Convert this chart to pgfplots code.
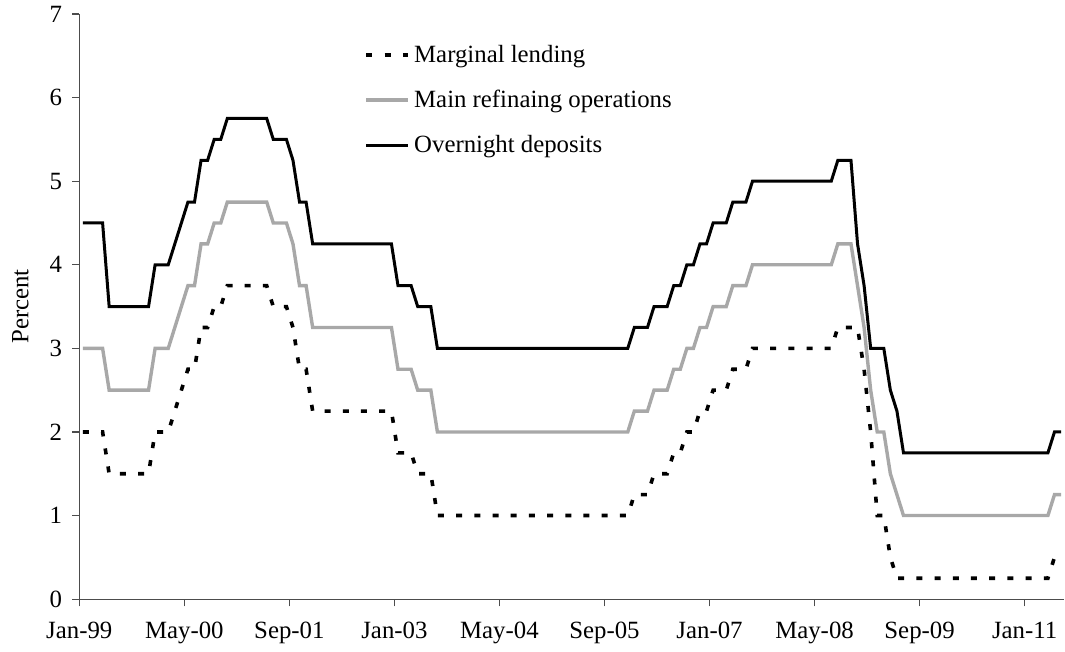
\documentclass[border=0pt]{standalone}
\usepackage{fontspec}
\setmainfont{Liberation Serif}
\usepackage{pgfplots}
\usepackage{pgfplotstable}
\pgfplotsset{compat=1.18}
\definecolor{mrogrey}{RGB}{168,168,168}
\pgfplotstableread[row sep=\\]{
m dep mro mlf\\
0 2 3 4.5\\ 1 2 3 4.5\\ 2 2 3 4.5\\ 3 2 3 4.5\\
4 1.5 2.5 3.5\\ 5 1.5 2.5 3.5\\ 6 1.5 2.5 3.5\\ 7 1.5 2.5 3.5\\ 8 1.5 2.5 3.5\\ 9 1.5 2.5 3.5\\ 10 1.5 2.5 3.5\\
11 2 3 4\\ 12 2 3 4\\ 13 2 3 4\\
14 2.25 3.25 4.25\\ 15 2.5 3.5 4.5\\
16 2.75 3.75 4.75\\ 17 2.75 3.75 4.75\\
18 3.25 4.25 5.25\\ 19 3.25 4.25 5.25\\
20 3.5 4.5 5.5\\ 21 3.5 4.5 5.5\\
22 3.75 4.75 5.75\\ 23 3.75 4.75 5.75\\ 24 3.75 4.75 5.75\\ 25 3.75 4.75 5.75\\ 26 3.75 4.75 5.75\\ 27 3.75 4.75 5.75\\ 28 3.75 4.75 5.75\\
29 3.5 4.5 5.5\\ 30 3.5 4.5 5.5\\ 31 3.5 4.5 5.5\\
32 3.25 4.25 5.25\\
33 2.75 3.75 4.75\\ 34 2.75 3.75 4.75\\
35 2.25 3.25 4.25\\ 36 2.25 3.25 4.25\\ 37 2.25 3.25 4.25\\ 38 2.25 3.25 4.25\\ 39 2.25 3.25 4.25\\ 40 2.25 3.25 4.25\\ 41 2.25 3.25 4.25\\
42 2.25 3.25 4.25\\ 43 2.25 3.25 4.25\\ 44 2.25 3.25 4.25\\ 45 2.25 3.25 4.25\\ 46 2.25 3.25 4.25\\ 47 2.25 3.25 4.25\\
48 1.75 2.75 3.75\\ 49 1.75 2.75 3.75\\ 50 1.75 2.75 3.75\\
51 1.5 2.5 3.5\\ 52 1.5 2.5 3.5\\ 53 1.5 2.5 3.5\\
54 1 2 3\\ 55 1 2 3\\ 56 1 2 3\\ 57 1 2 3\\ 58 1 2 3\\ 59 1 2 3\\ 60 1 2 3\\ 61 1 2 3\\ 62 1 2 3\\ 63 1 2 3\\
64 1 2 3\\ 65 1 2 3\\ 66 1 2 3\\ 67 1 2 3\\ 68 1 2 3\\ 69 1 2 3\\ 70 1 2 3\\ 71 1 2 3\\ 72 1 2 3\\ 73 1 2 3\\
74 1 2 3\\ 75 1 2 3\\ 76 1 2 3\\ 77 1 2 3\\ 78 1 2 3\\ 79 1 2 3\\ 80 1 2 3\\ 81 1 2 3\\ 82 1 2 3\\ 83 1 2 3\\
84 1.25 2.25 3.25\\ 85 1.25 2.25 3.25\\ 86 1.25 2.25 3.25\\
87 1.5 2.5 3.5\\ 88 1.5 2.5 3.5\\ 89 1.5 2.5 3.5\\
90 1.75 2.75 3.75\\ 91 1.75 2.75 3.75\\
92 2 3 4\\ 93 2 3 4\\
94 2.25 3.25 4.25\\ 95 2.25 3.25 4.25\\
96 2.5 3.5 4.5\\ 97 2.5 3.5 4.5\\ 98 2.5 3.5 4.5\\
99 2.75 3.75 4.75\\ 100 2.75 3.75 4.75\\ 101 2.75 3.75 4.75\\
102 3 4 5\\ 103 3 4 5\\ 104 3 4 5\\ 105 3 4 5\\ 106 3 4 5\\ 107 3 4 5\\ 108 3 4 5\\ 109 3 4 5\\ 110 3 4 5\\ 111 3 4 5\\ 112 3 4 5\\ 113 3 4 5\\ 114 3 4 5\\
115 3.25 4.25 5.25\\ 116 3.25 4.25 5.25\\ 117 3.25 4.25 5.25\\
118 3.25 3.75 4.25\\
119 2.75 3.25 3.75\\
120 2 2.5 3\\
121 1 2 3\\ 122 1 2 3\\
123 0.5 1.5 2.5\\
124 0.25 1.25 2.25\\
125 0.25 1 1.75\\ 126 0.25 1 1.75\\ 127 0.25 1 1.75\\ 128 0.25 1 1.75\\ 129 0.25 1 1.75\\ 130 0.25 1 1.75\\ 131 0.25 1 1.75\\ 132 0.25 1 1.75\\
133 0.25 1 1.75\\ 134 0.25 1 1.75\\ 135 0.25 1 1.75\\ 136 0.25 1 1.75\\ 137 0.25 1 1.75\\ 138 0.25 1 1.75\\ 139 0.25 1 1.75\\ 140 0.25 1 1.75\\
141 0.25 1 1.75\\ 142 0.25 1 1.75\\ 143 0.25 1 1.75\\ 144 0.25 1 1.75\\ 145 0.25 1 1.75\\ 146 0.25 1 1.75\\ 147 0.25 1 1.75\\
148 0.5 1.25 2\\ 149 0.5 1.25 2\\
}\ratestable
\begin{document}
\begin{tikzpicture}[font=\fontsize{12.4}{14.9}\selectfont]
\begin{axis}[
  at={(0pt,0pt)}, anchor=south west,
  scale only axis, width=492.4pt, height=292.6pt,
  xmin=0, xmax=150, ymin=0, ymax=7,
  axis x line*=bottom, axis y line*=left,
  axis line style={draw=black!70, line width=0.6pt},
  tick align=outside, major tick length=3.6pt,
  tick style={draw=black!70, line width=0.6pt},
  xtick={0,16,32,48,64,80,96,112,128,144},
  xticklabels={Jan-99,May-00,Sep-01,Jan-03,May-04,Sep-05,Jan-07,May-08,Sep-09,Jan-11},
  ytick={0,1,2,3,4,5,6,7},
  /pgf/number format/assume math mode=true,
  x tick label style={yshift=-4.5pt},
  y tick label style={xshift=-1.5pt},
  ylabel={Percent},
  every axis y label/.style={at={(axis description cs:0,0.5)}, rotate=90, anchor=center, yshift=29.5pt},
  legend cell align=left,
  legend style={at={(axis cs:43.4,6.68)}, anchor=north west, draw=none, fill=none,
    inner sep=0pt, row sep=8.3pt,
    /tikz/every even column/.append style={column sep=1.8pt}},
  legend image code/.code={\draw[#1] (0pt,0pt) -- (21pt,0pt);},
]
\addplot[black, line width=1.8pt, dash pattern=on 3pt off 6.1pt] table[x expr=\thisrow{m}+0.55, y=dep] {\ratestable};
\addlegendentry{Marginal lending}
\addplot[mrogrey, line width=1.7pt] table[x expr=\thisrow{m}+0.55, y=mro] {\ratestable};
\addlegendentry{Main refinaing operations}
\addplot[black, line width=1.5pt] table[x expr=\thisrow{m}+0.55, y=mlf] {\ratestable};
\addlegendentry{Overnight deposits}
\end{axis}
\pgfresetboundingbox
\useasboundingbox (-39.65pt,-26.35pt) rectangle (492.9pt,299.6pt);
\end{tikzpicture}
\end{document}
